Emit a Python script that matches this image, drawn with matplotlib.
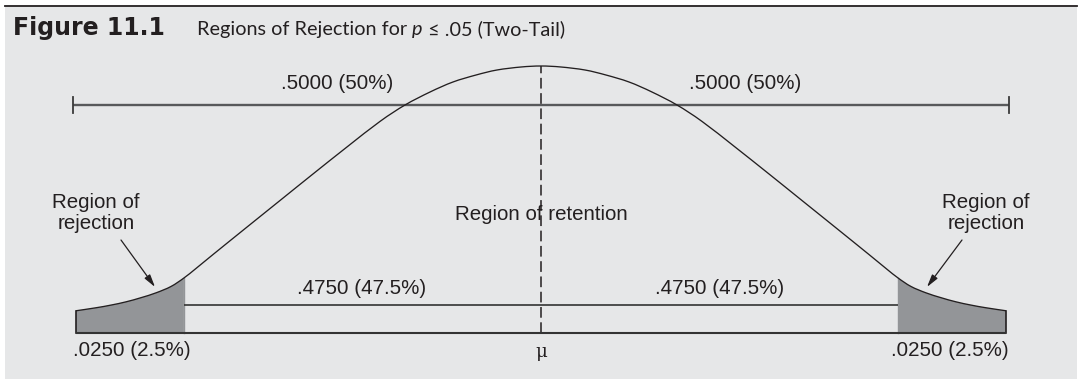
import matplotlib
matplotlib.use("Agg")
import matplotlib.pyplot as plt
from matplotlib.patches import Rectangle, PathPatch
from matplotlib.path import Path
from matplotlib.lines import Line2D
import numpy as np

# ---- data -------------------------------------------------------------
# Half of the stylised normal curve: distance from the mean (z units) and height
curve_z = [0.000, 0.110, 0.242, 0.357, 0.484, 0.610, 0.747, 0.885, 1.066,
           1.253, 1.434, 1.615, 1.802, 1.896, 1.962, 2.033, 2.115, 2.198,
           2.280, 2.363, 2.445, 2.555]
curve_h = [0.4000, 0.3985, 0.3940, 0.3865, 0.3760, 0.3610, 0.3416, 0.3169,
           0.2787, 0.2382, 0.1985, 0.1588, 0.1176, 0.0966, 0.0824, 0.0697,
           0.0602, 0.0529, 0.0467, 0.0418, 0.0378, 0.0333]

z_critical = 1.962       # boundary of the two rejection regions
z_limit = 2.555          # end of the drawn tails
bracket_limit = 2.57     # ends of the upper bracket

half_label = ".5000 (50%)"
retention_half_label = ".4750 (47.5%)"
tail_label = ".0250 (2.5%)"
rejection_label = "Region of\nrejection"
retention_label = "Region of retention"
mean_label = "\u03bc"
fig_number = "Figure 11.1"
fig_title_parts = ["Regions of Rejection for ", "p", " \u2264 .05 (Two-Tail)"]

# ---- figure -----------------------------------------------------------
W, H, DPI = 1081, 379, 100
fig = plt.figure(figsize=(W / DPI, H / DPI), dpi=DPI, facecolor="white")

INK = "#231f20"
PANEL = "#e6e7e8"
SHADE = "#939598"

# grey panel and top rule
fig.patches.append(Rectangle((5 / W, 0), (1077 - 5) / W, 1 - 7 / H,
                             transform=fig.transFigure, facecolor=PANEL,
                             edgecolor="none", zorder=-2))
fig.lines.append(Line2D([5 / W, 1077 / W], [1 - 5.5 / H, 1 - 5.5 / H],
                        transform=fig.transFigure, color=INK, lw=1.3, zorder=-1))

ax = fig.add_axes([0, 0, 1, 1], zorder=2)
ax.set_axis_off()
ax.patch.set_visible(False)
# 182 px per z unit, mean at x=541 px; 667.5 px per density unit, baseline at 333 px
ax.set_xlim(-541 / 182, (W - 541) / 182)
ax.set_ylim(-(H - 333) / 667.5, 333 / 667.5)

cz = np.array(curve_z)
ch = np.array(curve_h)
xs = np.concatenate([-cz[::-1], cz[1:]])
ys = np.concatenate([ch[::-1], ch[1:]])


def smooth_path(x, y):
    """Cubic Bezier path through the points (Catmull-Rom control points)."""
    pts = np.column_stack([x, y])
    verts = [pts[0]]
    codes = [Path.MOVETO]
    n = len(pts)
    for i in range(n - 1):
        p0 = pts[max(i - 1, 0)]
        p1 = pts[i]
        p2 = pts[i + 1]
        p3 = pts[min(i + 2, n - 1)]
        c1 = p1 + (p2 - p0) / 6.0
        c2 = p2 - (p3 - p1) / 6.0
        verts += [c1, c2, p2]
        codes += [Path.CURVE4] * 3
    return verts, codes


# shaded tails
for s in (-1, 1):
    sel = s * xs >= z_critical - 1e-9
    tx, ty = xs[sel], ys[sel]
    v, c = smooth_path(tx, ty)
    v = v + [(tx[-1], 0), (tx[0], 0), (tx[0], ty[0])]
    c = c + [Path.LINETO, Path.LINETO, Path.CLOSEPOLY]
    ax.add_patch(PathPatch(Path(v, c), facecolor=SHADE, edgecolor="none", zorder=2))

# curve
v, c = smooth_path(xs, ys)
ax.add_patch(PathPatch(Path(v, c), facecolor="none", edgecolor=INK, lw=0.95,
                       zorder=4))

# tail ends and critical-value edges
h_end = curve_h[-1]
h_crit = curve_h[curve_z.index(z_critical)]
for s in (-1, 1):
    ax.plot([s * z_limit, s * z_limit], [0, h_end], color=INK, lw=1.2, zorder=4)
    ax.plot([s * z_critical, s * z_critical], [0, h_crit], color=SHADE, lw=1.0, zorder=3)

# baseline
ax.plot([-z_limit, z_limit], [0, 0], color="#333333", lw=1.5, zorder=5,
        solid_capstyle="butt")
# inner line for the retention region
inner_y = 0.042
ax.plot([-z_critical, z_critical], [inner_y, inner_y], color="#333333", lw=1.2,
        zorder=5, solid_capstyle="butt")

# upper bracket
top_y = 0.3416
tick = 0.0127
ax.plot([-bracket_limit, bracket_limit], [top_y, top_y], color="#58595b",
        lw=1.7, zorder=3, solid_capstyle="butt")
for s in (-1, 1):
    ax.plot([s * bracket_limit] * 2, [top_y - tick, top_y + tick],
            color="#3a3a3a", lw=1.3, zorder=3)

# mean line
ax.plot([0, 0], [0, curve_h[0]], color=INK, lw=1.1, ls=(0, (7, 3)), zorder=3)

# ---- labels -----------------------------------------------------------
txt = dict(family=["Liberation Sans", "DejaVu Sans"], fontsize=14.8, color=INK)
px_x = lambda p: (p - 541) / 182
px_y = lambda p: (333 - p) / 667.5

for s in (-1, 1):
    ax.text(s * px_x(337), px_y(83), half_label, ha="center", va="center", **txt)
    ax.text(s * px_x(362), px_y(289), retention_half_label, ha="center",
            va="center", **txt)
    ax.text(s * px_x(132), px_y(350), tail_label, ha="center", va="center", **txt)

ax.text(px_x(96), px_y(213), rejection_label, ha="center", va="center",
        linespacing=1.1, **txt)
ax.text(px_x(986), px_y(213), rejection_label, ha="center", va="center",
        linespacing=1.1, **txt)
ax.text(0, px_y(214), retention_label, ha="center", va="center", **txt)
ax.text(0, px_y(352), mean_label, ha="center", va="center",
        family=["DejaVu Serif"], fontsize=13, color=INK)

arrow = dict(arrowstyle="-|>,head_length=0.75,head_width=0.2", color=INK, lw=0.9,
             shrinkA=0, shrinkB=0)
ax.annotate("", xy=(px_x(155), px_y(287)), xytext=(px_x(121), px_y(240)),
            arrowprops=arrow, zorder=6)
ax.annotate("", xy=(px_x(927), px_y(287)), xytext=(px_x(962), px_y(240)),
            arrowprops=arrow, zorder=6)

# ---- title ------------------------------------------------------------
renderer = fig.canvas.get_renderer()
base = 1 - 35.5 / H
fig.text(13 / W, base, fig_number, family=["DejaVu Sans"],
         fontweight="bold", fontsize=17, color=INK, va="baseline")
x_cursor = 197 / W
styles = ["normal", "italic", "normal"]
for part, st in zip(fig_title_parts, styles):
    t = fig.text(x_cursor, base, part, family=["Lato", "DejaVu Sans"],
                 fontweight="normal", fontsize=14.3, color=INK, va="baseline",
                 style=st)
    bb = t.get_window_extent(renderer)
    x_cursor = bb.x1 / W

fig.savefig("out.png", dpi=DPI, facecolor="white")
